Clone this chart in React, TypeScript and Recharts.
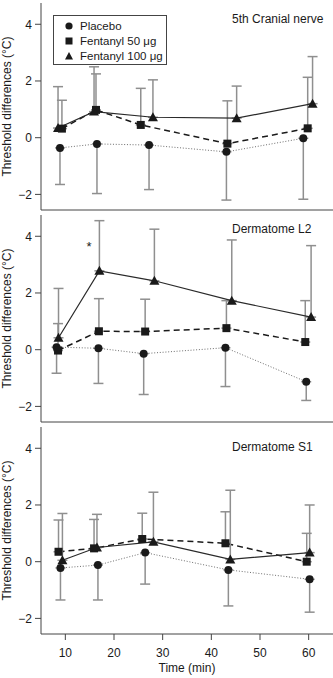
import React from 'react';
import { ComposedChart, Line, XAxis, YAxis, ErrorBar, Legend, ReferenceDot } from 'recharts';

const TIME_TICKS = [10, 20, 30, 40, 50, 60];
const DIFF_TICKS = [-2, 0, 2, 4];
const SERIES_NAMES = ['Placebo', 'Fentanyl 50 μg', 'Fentanyl 100 μg'];
const PANEL_TITLES = ['5th Cranial nerve', 'Dermatome L2', 'Dermatome S1'];

// 5th cranial nerve: mean and end of the one-sided error bar
const cnPlaceboTime = [8.9, 16.5, 27.2, 43.1, 58.9];
const cnPlaceboMean = [-0.36, -0.22, -0.26, -0.5, -0.02];
const cnPlaceboLow = [-1.65, -1.97, -1.83, -2.2, -2.17];
const cnF50Time = [9.3, 16.3, 25.5, 43.3, 59.8];
const cnF50Mean = [0.32, 0.98, 0.45, -0.21, 0.33];
const cnF50High = [1.32, 2.25, 1.74, 1.3, 2.13];
const cnF100Time = [8.5, 15.9, 28.0, 45.2, 60.8];
const cnF100Mean = [0.34, 0.92, 0.72, 0.69, 1.2];
const cnF100High = [1.8, 2.5, 2.04, 1.82, 2.86];

// dermatome L2
const l2PlaceboTime = [8.2, 16.8, 26.1, 42.9, 59.5];
const l2PlaceboMean = [0.09, 0.05, -0.14, 0.07, -1.13];
const l2PlaceboLow = [-0.83, -1.19, -1.58, -1.3, -1.79];
const l2F50Time = [8.5, 16.9, 26.4, 43.1, 59.3];
const l2F50Mean = [-0.03, 0.65, 0.64, 0.76, 0.27];
const l2F50High = [0.92, 1.8, 1.78, 1.73, 1.73];
const l2F100Time = [8.6, 17.0, 28.3, 44.2, 60.5];
const l2F100Mean = [0.42, 2.78, 2.43, 1.73, 1.15];
const l2F100High = [2.16, 4.55, 4.25, 3.87, 3.67];

// dermatome S1
const s1PlaceboTime = [9.0, 16.7, 26.4, 43.5, 60.2];
const s1PlaceboMean = [-0.22, -0.12, 0.32, -0.29, -0.62];
const s1PlaceboLow = [-1.35, -1.35, -0.79, -1.56, -1.78];
const s1F50Time = [8.6, 15.9, 25.8, 42.9, 59.6];
const s1F50Mean = [0.35, 0.47, 0.8, 0.65, 0.0];
const s1F50High = [1.47, 1.49, 1.71, 1.76, 1.0];
const s1F100Time = [9.4, 16.5, 28.1, 43.9, 60.2];
const s1F100Mean = [0.05, 0.5, 0.7, 0.08, 0.32];
const s1F100High = [1.7, 1.67, 2.45, 2.52, 2.0];

// significant difference marker (L2, 15 min)
const starTime = 14.85;
const starDiff = 3.64;

type Row = { time: number; value: number; err: [number, number] };

const belowRows = (t: number[], mean: number[], low: number[]): Row[] =>
  t.map((time, i) => ({ time, value: mean[i], err: [mean[i] - low[i], 0] }));
const aboveRows = (t: number[], mean: number[], high: number[]): Row[] =>
  t.map((time, i) => ({ time, value: mean[i], err: [0, high[i] - mean[i]] }));

const panels = [
  {
    placebo: belowRows(cnPlaceboTime, cnPlaceboMean, cnPlaceboLow),
    f50: aboveRows(cnF50Time, cnF50Mean, cnF50High),
    f100: aboveRows(cnF100Time, cnF100Mean, cnF100High),
  },
  {
    placebo: belowRows(l2PlaceboTime, l2PlaceboMean, l2PlaceboLow),
    f50: aboveRows(l2F50Time, l2F50Mean, l2F50High),
    f100: aboveRows(l2F100Time, l2F100Mean, l2F100High),
  },
  {
    placebo: belowRows(s1PlaceboTime, s1PlaceboMean, s1PlaceboLow),
    f50: aboveRows(s1F50Time, s1F50Mean, s1F50High),
    f100: aboveRows(s1F100Time, s1F100Mean, s1F100High),
  },
];

const INK = '#1a1a1a';
const AXIS = '#444';
const BAR = '#8f8f8f';
const FONT = '"Liberation Sans", Arial, Helvetica, sans-serif';

const CircleDot = (p: any) => <circle key={p.index} cx={p.cx} cy={p.cy} r={4} fill={INK} />;
const SquareDot = (p: any) => (
  <rect key={p.index} x={p.cx - 4} y={p.cy - 4} width={8} height={8} fill={INK} />
);
const TriangleDot = (p: any) => (
  <polygon
    key={p.index}
    points={`${p.cx},${p.cy - 5} ${p.cx + 5},${p.cy + 4} ${p.cx - 5},${p.cy + 4}`}
    fill={INK}
  />
);

const LegendSymbol = ({ kind }: { kind: number }) => (
  <svg width={10} height={10} style={{ display: 'block' }}>
    {kind === 0 && <circle cx={5} cy={5} r={3.6} fill={INK} />}
    {kind === 1 && <rect x={1.5} y={1.5} width={7} height={7} fill={INK} />}
    {kind === 2 && <polygon points="5,1 9,8.5 1,8.5" fill={INK} />}
  </svg>
);

const LegendBox = () => (
  <div
    style={{
      border: '1px solid #444',
      width: 114,
      height: 50,
      boxSizing: 'border-box',
      paddingTop: 3,
      fontFamily: FONT,
      fontSize: 11.5,
      color: INK,
      background: '#fff',
    }}
  >
    {SERIES_NAMES.map((name, i) => (
      <div key={name} style={{ display: 'flex', alignItems: 'center', height: 14.7 }}>
        <div style={{ width: 10, marginLeft: 10, marginRight: 6 }}>
          <LegendSymbol kind={i} />
        </div>
        <span style={{ whiteSpace: 'nowrap' }}>{name}</span>
      </div>
    ))}
  </div>
);

const PLOT_H = 207;

type PanelProps = {
  index: number;
  top: number;
  marginTop: number;
  titleTop: number;
  bottomAxis: boolean;
};

const Panel = ({ index, top, marginTop, titleTop, bottomAxis }: PanelProps) => {
  const data = panels[index];
  const xAxisH = bottomAxis ? 44 : 1;
  const height = marginTop + PLOT_H + xAxisH;
  return (
    <div style={{ position: 'absolute', left: 0, top, width: 333, height }}>
      <ComposedChart width={333} height={height} margin={{ top: marginTop, right: 0, bottom: 0, left: 0 }}>
        <XAxis
          dataKey="time"
          type="number"
          domain={[5, 65]}
          ticks={TIME_TICKS}
          allowDataOverflow
          height={xAxisH}
          axisLine={{ stroke: AXIS }}
          tick={bottomAxis ? { fill: INK, fontSize: 12 } : false}
          tickLine={bottomAxis ? { stroke: AXIS } : false}
          tickSize={6}
          tickMargin={8}
          label={
            bottomAxis
              ? { value: 'Time (min)', position: 'insideBottom', offset: 6, fill: INK, fontSize: 12 }
              : undefined
          }
        />
        <YAxis
          type="number"
          domain={[-2.55, 4.75]}
          ticks={DIFF_TICKS}
          allowDataOverflow
          width={41}
          axisLine={{ stroke: AXIS }}
          tickLine={{ stroke: AXIS }}
          tick={{ fill: INK, fontSize: 12 }}
          tickSize={6}
          tickMargin={3}
          tickFormatter={(v: number) => (v < 0 ? `−${Math.abs(v)}` : `${v}`)}
          label={{
            value: 'Threshold differences (°C)',
            angle: -90,
            position: 'insideLeft',
            offset: 7,
            fill: INK,
            fontSize: 12,
            style: { textAnchor: 'middle' },
          }}
        />
        <Line
          data={data.placebo}
          dataKey="value"
          name={SERIES_NAMES[0]}
          stroke="#6e6e6e"
          strokeWidth={1}
          strokeDasharray="1 1.8"
          dot={CircleDot}
          activeDot={false}
          isAnimationActive={false}
        >
          <ErrorBar dataKey="err" direction="y" width={5} stroke={BAR} strokeWidth={1.5} isAnimationActive={false} />
        </Line>
        <Line
          data={data.f50}
          dataKey="value"
          name={SERIES_NAMES[1]}
          stroke={INK}
          strokeWidth={1.5}
          strokeDasharray="6 4"
          dot={SquareDot}
          activeDot={false}
          isAnimationActive={false}
        >
          <ErrorBar dataKey="err" direction="y" width={5} stroke={BAR} strokeWidth={1.5} isAnimationActive={false} />
        </Line>
        <Line
          data={data.f100}
          dataKey="value"
          name={SERIES_NAMES[2]}
          stroke="#2a2a2a"
          strokeWidth={1.2}
          dot={TriangleDot}
          activeDot={false}
          isAnimationActive={false}
        >
          <ErrorBar dataKey="err" direction="y" width={5} stroke={BAR} strokeWidth={1.5} isAnimationActive={false} />
        </Line>
        {index === 1 && (
          <ReferenceDot
            x={starTime}
            y={starDiff}
            r={0}
            fill="none"
            stroke="none"
            label={{ value: '*', position: 'center', fill: INK, fontSize: 13 }}
          />
        )}
        {index === 0 && (
          <Legend
            layout="horizontal"
            verticalAlign="middle"
            align="center"
            content={() => <LegendBox />}
            wrapperStyle={{ top: 15, left: 53, width: 114, height: 50 }}
          />
        )}
      </ComposedChart>
      <div
        style={{
          position: 'absolute',
          left: 232,
          top: titleTop,
          fontSize: 12,
          lineHeight: '14px',
          color: INK,
          whiteSpace: 'nowrap',
        }}
      >
        {PANEL_TITLES[index]}
      </div>
    </div>
  );
};

export default function App() {
  return (
    <div
      style={{
        position: 'absolute',
        left: 0,
        top: 0,
        width: 333,
        height: 678,
        background: '#fff',
        fontFamily: FONT,
        overflow: 'hidden',
      }}
    >
      <Panel index={0} top={0} marginTop={3} titleTop={12} bottomAxis={false} />
      <Panel index={1} top={211} marginTop={4} titleTop={11} bottomAxis={false} />
      <Panel index={2} top={423} marginTop={4} titleTop={17} bottomAxis />
    </div>
  );
}
